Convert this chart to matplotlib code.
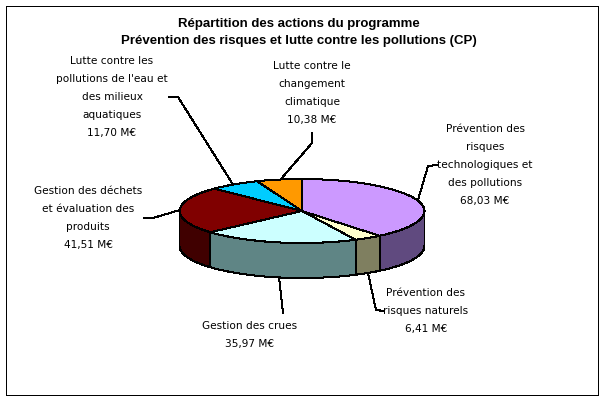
import numpy as np
import matplotlib
matplotlib.use("Agg")
import matplotlib.pyplot as plt
from matplotlib.patches import Rectangle

# values in M euros, clockwise from 12 o'clock
categories = ["Prévention des\nrisques\ntechnologiques et\ndes pollutions",
              "Prévention des\nrisques naturels",
              "Gestion des crues",
              "Gestion des déchets\net évaluation des\nproduits",
              "Lutte contre les\npollutions de l'eau et\ndes milieux\naquatiques",
              "Lutte contre le\nchangement\nclimatique"]
values = [68.03, 6.41, 35.97, 41.51, 11.70, 10.38]
value_labels = ["68,03 M€", "6,41 M€", "35,97 M€", "41,51 M€", "11,70 M€", "10,38 M€"]
top_colors = ["#CC99FF", "#FFFFCC", "#CCFFFF", "#800000", "#00CCFF", "#FF9900"]
side_colors = ["#604A7F", "#7F7F60", "#5F8585", "#400000", "#006580", "#804C00"]
title_lines = ["Répartition des actions du programme",
               "Prévention des risques et lutte contre les pollutions (CP)"]

# label centre and first line middle, in pixels
label_pos = [(485, 129), (426, 293), (250, 326), (88, 191), (112, 61), (312, 66)]
# leader lines in pixels
leaders = [[(437, 165), (428, 166), (418, 200)],
           [(384, 311), (376, 310), (368, 273)],
           [(283, 313), (279, 277)],
           [(144, 218), (153, 218), (180, 210)],
           [(169, 97), (178, 97), (232, 183)],
           [(312, 133), (312, 143), (281, 179)]]

W, H = 604, 400
cx, cy, rx, ry, depth = 302, 211, 122.5, 32, 35

fig = plt.figure(figsize=(W / 100, H / 100), dpi=100)
bg = fig.add_axes([0, 0, 1, 1])
bg.set_xlim(0, W)
bg.set_ylim(H, 0)
bg.axis("off")
bg.add_patch(Rectangle((5.5, 5.5), 592, 389, fc="white", ec="black", lw=0.72, aa=False))

for n, line in enumerate(title_lines):
    bg.text(299, 24 + n * 17, line, ha="center", va="center", fontsize=9.5, fontweight="bold",
            family="Liberation Sans")

# pie axes: unit circle mapped onto the flattened ellipse
ax = fig.add_axes([(cx - rx) / W, 1 - (cy + ry) / H, 2 * rx / W, 2 * ry / H])

# sides first, only the part of each slice facing the viewer
angles = np.cumsum([0] + values) / sum(values) * 2 * np.pi
d = depth / ry
for i in range(len(values)):
    a0, a1 = max(angles[i], np.pi / 2), min(angles[i + 1], 3 * np.pi / 2)
    if a1 <= a0:
        continue
    t = np.linspace(a0, a1, 60)
    x, y = np.sin(t), np.cos(t)
    ax.fill(np.r_[x, x[::-1]], np.r_[y, y[::-1] - d], fc=side_colors[i], ec="black",
            lw=0.72, clip_on=False, zorder=1, antialiased=False)

wedges, _ = ax.pie(values, colors=top_colors, startangle=90, counterclock=False, radius=1,
                   frame=True, wedgeprops=dict(ec="black", lw=0.72, zorder=2, antialiased=False))
ax.set_aspect("auto")
ax.set_xlim(-1, 1)
ax.set_ylim(-1, 1)
ax.axis("off")
for w in wedges:
    w.set_clip_on(False)

for (lx, ly), cat, val in zip(label_pos, categories, value_labels):
    lines = (cat + "\n" + val).split("\n")
    for n, line in enumerate(lines):
        bg.text(lx, ly + n * 18, line, ha="center", va="center", fontsize=7.6,
                family="DejaVu Sans", zorder=5)
for pts in leaders:
    bg.plot(*zip(*pts), color="black", lw=0.72, zorder=5, antialiased=False)

fig.savefig("out.png", dpi=100)
